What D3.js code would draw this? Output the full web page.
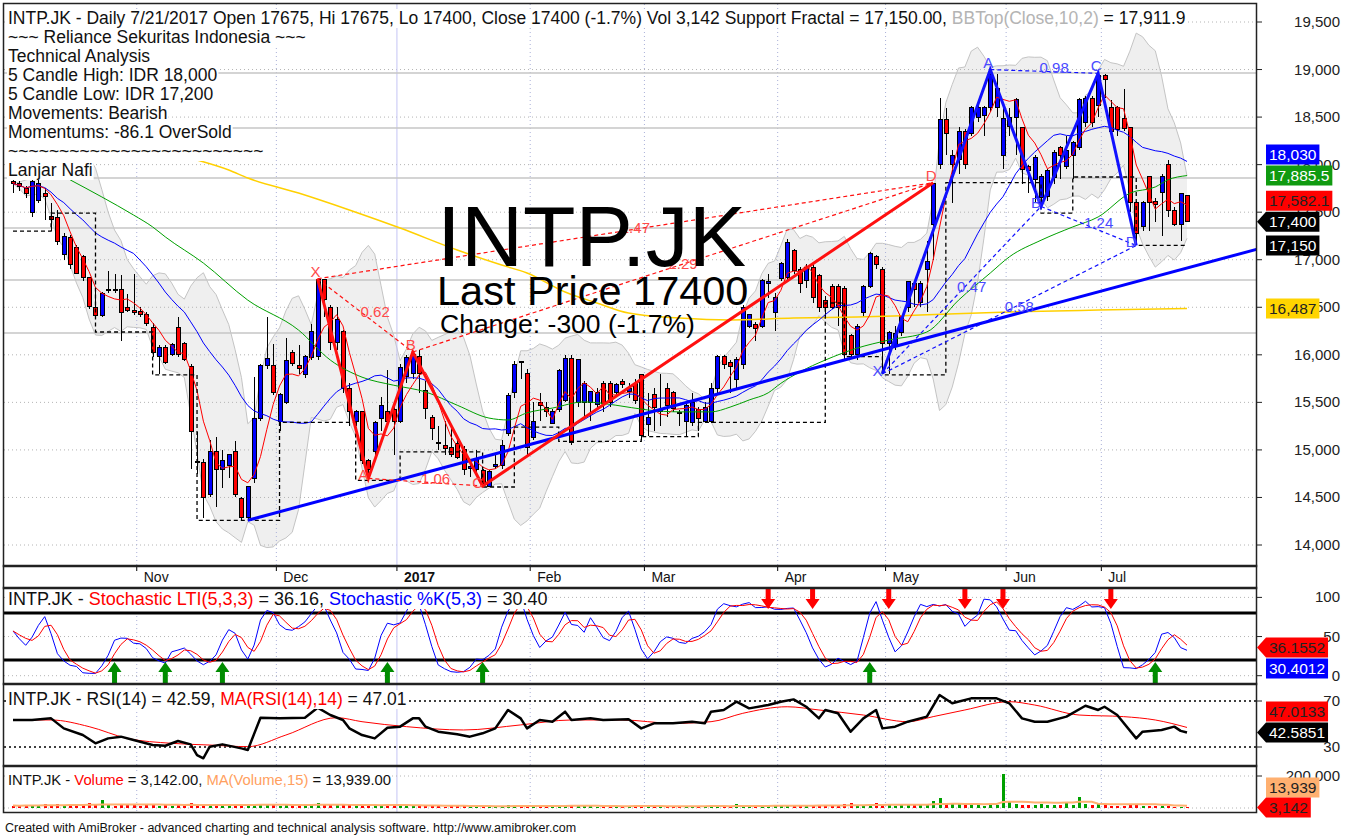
<!DOCTYPE html>
<html>
<head>
<meta charset="utf-8">
<script src="https://cdn.jsdelivr.net/npm/d3@7"></script>
<style>
  body { margin: 0; background: #fff; }
  svg { display: block; font-family: Arial, "Liberation Sans", sans-serif; }
  text { white-space: pre; }
</style>
</head>
<body>
<div id="wrapper"></div>
<script>
// ---- data ----
const monthNames = ["Nov", "Dec", "2017", "Feb", "Mar", "Apr", "May", "Jun", "Jul"]
const monthStarts = [20, 42, 61, 82, 100, 121, 138, 157, 172]

const opens = [
  17825, 17800, 17750, 17500, 17620, 17700, 17450, 17440, 17050, 17230, 17130, 17030, 16810, 16500, 16410, 16680, 16690, 16690, 16500, 16470,
  16460, 16420, 16290, 15980, 16080, 16000, 16290, 16120, 15880, 14880, 14870, 14530, 14980, 14790, 14840, 14980, 14490, 14290, 14700, 15330, 15890, 15890,
  15300, 15500, 16020, 15890, 15790, 15970, 15980, 16790, 16500, 16130, 16240, 15650, 15300, 15400, 14890, 14980, 15330, 15400, 15420,
  15300, 15770, 15800, 15980, 15620, 15340, 15080, 15050, 15030, 15070, 15000, 14800, 14790, 14780, 14610, 14830, 14840, 15170, 15600, 15930, 15800,
  15130, 15500, 15450, 15280, 15420, 15520, 15960, 15500, 15500, 15500, 15480, 15700, 15700, 15600, 15720, 15610, 15700, 15790,
  15270, 15580, 15400, 15650, 15600, 15390, 15300, 15290, 15430, 15300, 15300, 15650, 15980, 15920, 15740, 15900, 16300, 16320, 16300, 16750, 16450,
  16800, 16810, 17100, 16900, 16780, 16920, 16830, 16570, 16720, 16720, 16700, 16200, 16000, 16450, 16720, 17030, 16900,
  16120, 16100, 16230, 16500, 16750, 16550, 16900, 17370, 18000, 18470, 18000, 18050, 18350, 18330, 18500, 18520, 18600, 18600, 18100,
  18400, 18500, 18390, 17980, 17840, 17650, 17660, 17860, 18180, 17980, 18100, 18180, 18440, 18700, 18620,
  18940, 18600, 18600, 18480, 18390, 17600, 17350, 17870, 17610, 17710, 18000, 17520, 17370, 17675
]
const highs = [
  17875, 17825, 17775, 17850, 17850, 17750, 17600, 17520, 17280, 17260, 17160, 17050, 16820, 16700, 16660, 16880, 16850, 16840, 16640, 16850,
  16500, 16450, 16330, 16100, 16100, 16120, 16400, 16130, 15900, 15190, 14900, 15100, 15140, 15000, 14960, 15090, 14500, 14620, 15770, 15900, 16400, 16110,
  15600, 16180, 16050, 16100, 16000, 16320, 16800, 16800, 16520, 16500, 16260, 15700, 15420, 15410, 14900, 15300, 15560, 15840, 15500,
  15900, 16000, 16030, 16050, 15720, 15370, 15250, 15300, 15250, 15100, 15040, 14900, 15000, 14800, 14790, 14950, 15100, 15600, 15930, 15940, 15850,
  15500, 15600, 15500, 15430, 15850, 16000, 16000, 15960, 15720, 15620, 15650, 15720, 15720, 15700, 15750, 15700, 15750, 15800,
  15600, 15650, 15800, 15700, 15620, 15420, 15500, 15600, 15450, 15500, 15700, 16000, 16000, 15950, 15980, 16520, 16430, 16350, 16800, 16850, 16650,
  16980, 17220, 17110, 16920, 16950, 16950, 16850, 16620, 16750, 16750, 16720, 16220, 16320, 16730, 17080, 17050, 16920,
  16250, 16300, 16420, 16780, 16770, 16780, 17200, 17810, 18700, 18600, 18150, 18400, 18380, 18620, 18620, 18620, 19000, 18950, 18600,
  18600, 18700, 18400, 18000, 18100, 17900, 17950, 18150, 18200, 18300, 18250, 18700, 18720, 18720, 18950,
  18950, 18680, 18620, 18800, 18400, 17620, 17620, 17880, 17650, 17900, 18050, 17550, 17700, 17675
]
const lows = [
  17700, 17725, 17650, 17450, 17600, 17420, 17300, 17150, 17000, 16900, 16850, 16780, 16480, 16400, 16400, 16650, 16650, 16150, 16450, 16420,
  16400, 16300, 15980, 15800, 15900, 15990, 15980, 15930, 14800, 14750, 14280, 14500, 14400, 14600, 14700, 14500, 14260, 14250, 14650, 15300, 15850, 15580,
  15200, 15480, 15880, 15800, 15760, 15950, 15950, 16400, 16050, 16050, 15600, 15250, 15250, 14850, 14700, 14950, 15200, 15250, 14950,
  15280, 15700, 15750, 15600, 15320, 15100, 15000, 14950, 14930, 14900, 14740, 14720, 14750, 14620, 14640, 14800, 14800, 15150, 15550, 15750, 14950,
  15100, 15300, 15350, 15270, 15400, 15500, 15050, 15450, 15350, 15300, 15420, 15400, 15450, 15570, 15650, 15550, 15480, 15100,
  15150, 15200, 15250, 15350, 15400, 15250, 15150, 15250, 15200, 15280, 15280, 15600, 15850, 15600, 15650, 15850, 16280, 16150, 16280, 16600, 16250,
  16780, 16780, 16850, 16650, 16700, 16550, 16450, 16400, 16480, 16300, 15950, 15980, 15950, 16400, 16700, 16900, 15800,
  15800, 16050, 16200, 16450, 16500, 16500, 16450, 17000, 17950, 18100, 17600, 17900, 17950, 18300, 18450, 18300, 18550, 18500, 17950,
  18300, 18100, 17800, 17700, 17600, 17560, 17620, 17800, 17850, 17950, 17850, 18150, 18400, 18400, 18500,
  18700, 18300, 18300, 18350, 17500, 17150, 17300, 17300, 17400, 17250, 17450, 17350, 17200, 17400
]
const closes = [
  17800, 17765, 17700, 17825, 17800, 17660, 17425, 17190, 17240, 16950, 16860, 16810, 16510, 16410, 16650, 16690, 16680, 16450, 16470, 16440,
  16420, 16330, 16020, 16080, 15920, 16110, 16000, 15950, 15190, 14870, 14500, 14980, 14790, 14890, 14950, 14530, 14290, 14610, 15330, 15890, 15960, 15600,
  15580, 15940, 15910, 15860, 15980, 16240, 16790, 16580, 16130, 16370, 15650, 15400, 15400, 14890, 14790, 15290, 15470, 15300, 15300,
  15870, 15970, 16000, 15800, 15440, 15230, 15070, 15020, 14950, 14920, 14790, 14830, 14910, 14650, 14770, 14850, 15050, 15570, 15900, 15920, 15030,
  15300, 15470, 15400, 15400, 15840, 15960, 15080, 15950, 15700, 15610, 15600, 15490, 15500, 15690, 15690, 15650, 15520, 15150,
  15340, 15450, 15420, 15470, 15440, 15380, 15470, 15500, 15330, 15450, 15650, 15980, 15900, 15880, 15950, 16500, 16420, 16280, 16780, 16770, 16600,
  16960, 17180, 16890, 16750, 16920, 16600, 16500, 16500, 16500, 16500, 16000, 16000, 16300, 16720, 17070, 16950, 16120,
  16230, 16220, 16400, 16770, 16690, 16750, 16980, 17800, 18470, 18330, 18100, 18350, 18000, 18600, 18600, 18600, 18950, 18800, 18480,
  18500, 18680, 17950, 17940, 18070, 17880, 17940, 18130, 18100, 18150, 18230, 18680, 18700, 18440, 18940,
  18900, 18350, 18370, 18380, 17600, 17280, 17600, 17600, 17580, 17880, 17520, 17370, 17700, 17400
]
const volumes = [
  15000, 12000, 18000, 20000, 14000, 22000, 16000, 25000, 18000, 20000, 24000, 22000, 30000, 18000, 48000, 20000, 15000, 22000, 16000, 18000,
  14000, 16000, 20000, 15000, 18000, 14000, 16000, 17000, 30000, 22000, 26000, 20000, 18000, 14000, 15000, 20000, 16000, 18000, 26000, 28000, 22000, 18000,
  15000, 22000, 14000, 12000, 16000, 20000, 32000, 18000, 20000, 16000, 22000, 18000, 12000, 20000, 16000, 14000, 18000, 16000, 14000,
  20000, 16000, 12000, 14000, 12000, 10000, 12000, 9000, 10000, 11000, 12000, 10000, 9000, 12000, 10000, 12000, 14000, 16000, 18000, 12000, 20000,
  12000, 10000, 9000, 10000, 14000, 16000, 20000, 14000, 12000, 10000, 9000, 11000, 10000, 9000, 8000, 12000, 16000, 12000,
  12000, 10000, 11000, 10000, 9000, 11000, 12000, 10000, 11000, 14000, 18000, 12000, 10000, 12000, 22000, 12000, 10000, 18000, 14000, 12000, 14000,
  16000, 20000, 14000, 12000, 14000, 16000, 18000, 14000, 20000, 14000, 22000, 30000, 18000, 20000, 26000, 30000, 16000,
  28000, 14000, 16000, 22000, 18000, 16000, 24000, 45000, 60000, 30000, 22000, 25000, 20000, 18000, 16000, 14000, 28000, 20000, 210000,
  35000, 28000, 20000, 18000, 16000, 22000, 20000, 18000, 16000, 40000, 20000, 70000, 25000, 18000, 30000,
  16000, 14000, 12000, 12000, 22000, 24000, 14000, 12000, 12000, 10000, 11000, 8000, 9000, 3142
]

// long averages: [bar, value]
const greenLine = [[9, 17840], [14, 17660], [19, 17470], [22, 17345], [24, 17240], [30, 16965], [37, 16575], [45, 16260], [50, 15945], [55, 15765], [60, 15680], [65, 15610], [70, 15470], [75, 15335], [78, 15315], [81, 15390], [85, 15440], [90, 15505], [95, 15470], [100, 15420], [105, 15400], [110, 15400], [113, 15450], [116, 15525], [119, 15600], [121, 15700], [124, 15820], [128, 15945], [133, 16070], [138, 16155], [144, 16240], [149, 16575], [154, 16860], [157, 17030], [162, 17205], [167, 17345], [171, 17450], [176, 17700], [180, 17765], [182, 17840], [185, 17885]]
const yellowLine = [[29, 18048], [34, 17943], [37, 17859], [45, 17701], [53, 17523], [61, 17333], [70, 17102], [77, 16944], [81, 16860], [87, 16660], [92, 16545], [97, 16439], [105, 16387], [113, 16366], [123, 16387], [133, 16397], [143, 16418], [157, 16450], [171, 16471], [185, 16487]]

// RSI(14) and its 14-bar average: [bar, value]
const rsiLine = [[0, 53.5], [3, 53.5], [6, 54.9], [8, 46.2], [11, 40.4], [13, 33.2], [15, 37.5], [17, 39], [19, 36.1], [22, 31.7], [24, 31.1], [26, 35.2], [28, 32.3], [29, 23], [30, 20.2], [31, 30.3], [33, 32.3], [36, 28.8], [37, 27.4], [39, 55.5], [42, 54.9], [46, 55.5], [48, 64.2], [50, 57.8], [52, 53.5], [53, 46.2], [55, 40.4], [57, 37.5], [59, 46.8], [61, 47.7], [63, 54.9], [64, 54.9], [65, 47.7], [67, 43.3], [70, 41], [72, 39], [74, 41.9], [76, 46.2], [78, 62.2], [80, 54.9], [81, 46.2], [83, 53.5], [85, 52], [87, 60.7], [88, 53.5], [91, 54.9], [93, 53.5], [97, 54.1], [99, 46.2], [101, 50.6], [104, 50.6], [107, 52], [109, 50.6], [110, 60.7], [112, 62.2], [114, 69.4], [116, 63.6], [119, 66.5], [121, 69.4], [123, 71.4], [125, 65], [127, 54.9], [128, 62.2], [130, 59.3], [132, 43.3], [134, 54.9], [136, 62.2], [137, 46.2], [139, 47.7], [141, 52], [144, 56.4], [146, 75.2], [148, 68], [151, 72.3], [155, 72.3], [157, 68], [159, 54.9], [161, 52], [163, 52], [166, 56.4], [169, 65.9], [171, 62.2], [172, 65], [174, 57.8], [177, 37.5], [178, 43.3], [181, 44.8], [183, 47.7], [184, 44], [185, 42.6]]
const rsiMaLine = [[0, 53.5], [6, 53.5], [12, 47.7], [18, 37.5], [25, 33.2], [31, 31.7], [37, 30.3], [43, 40.4], [51, 55.5], [55, 52], [62, 47.7], [71, 44.8], [80, 49.2], [88, 53.5], [96, 53.5], [104, 50.6], [110, 52], [115, 59.3], [122, 65], [127, 62.2], [134, 57.8], [141, 52], [145, 56.4], [150, 62.2], [157, 69.4], [161, 66.5], [168, 57.8], [175, 56.4], [180, 53.5], [185, 47]]

// fractal support / resistance steps: [bar, level]
const fractalSteps = [[0, 17300], [6, 17490], [13, 16240], [22, 15790], [29, 14260], [42, 15290], [54, 14680], [61, 14980], [74, 14610], [79, 15240], [86, 15090], [99, 15140], [108, 15290], [128, 16545], [131, 15980], [137, 15790], [147, 17810], [162, 17490], [167, 17870], [177, 17150], [185, 17150]]
const srLevels = [18963, 18385, 17859, 17333, 16787, 16229]
const trendLine = [[37, 14260], [196, 17110]]

const redPattern = { X: [48, 16800], A: [56, 14700], B: [63, 16030], C: [74, 14620], D: [145, 17810] }
const redRatios = { XB: "0.62", AC: "1.06", BD: "2.29", XD: "1.47" }
const bluePattern = { X: [137, 15800], A: [154, 19000], B: [162, 17560], C: [171, 18960], D: [177, 17150] }
const blueRatios = { XB: "0.47", AC: "0.98", BD: "1.24", XD: "0.58" }

const buySignals = [16, 24, 33, 59, 74, 135, 180]
const sellSignals = [119, 126, 138, 150, 156, 173]

const priceTicks = [14000, 14500, 15000, 15500, 16000, 16500, 17000, 17500, 18000, 18500, 19000, 19500]
const stochTicks = [0, 50, 100]
const rsiTicks = [30, 70]
const volTicks = [200000]

const infoLines = [
  "~~~ Reliance Sekuritas Indonesia ~~~",
  "Technical Analysis",
  "5 Candle High: IDR 18,000",
  "5 Candle Low: IDR 17,200",
  "Movements: Bearish",
  "Momentums: -86.1 OverSold",
  "~~~~~~~~~~~~~~~~~~~~~~~~~",
  "Lanjar Nafi",
]

const priceLabels = [
  { text: "18,030", value: 18030, bg: "#0000ff", fg: "#fff" },
  { text: "17,885.5", value: 17885.5, bg: "#109a10", fg: "#fff" },
  { text: "17,582.1", value: 17582.1, bg: "#ff0000", fg: "#222" },
  { text: "17,400", value: 17400, bg: "#000", fg: "#fff", pointer: true },
  { text: "17,150", value: 17150, bg: "#000", fg: "#fff" },
  { text: "16,487", value: 16487, bg: "#ffd400", fg: "#222" },
]
const stochLabels = [
  { text: "36.1552", value: 36.1552, bg: "#ff0000", fg: "#222", pointer: true },
  { text: "30.4012", value: 30.4012, bg: "#0000ff", fg: "#fff" },
]
const rsiLabels = [
  { text: "47.0133", value: 47.0133, bg: "#ff0000", fg: "#222" },
  { text: "42.5851", value: 42.5851, bg: "#000", fg: "#fff", pointer: true },
]
const volLabels = [
  { text: "13,939", value: 13939, bg: "#ffb070", fg: "#222" },
  { text: "3,142", value: 3142, bg: "#ff0000", fg: "#222", pointer: true },
]

const drawChart = () => {
  const width = 1355, height = 835
  const left = 4, right = 1256
  const panes = {
    price: { top: 4, bottom: 566 },
    strip: { top: 566, bottom: 588 },
    stoch: { top: 588, bottom: 684 },
    rsi: { top: 684, bottom: 766 },
    vol: { top: 766, bottom: 812 },
  }

  const svg = d3.select("#wrapper").append("svg").attr("width", width).attr("height", height)
  svg.append("rect").attr("width", width).attr("height", height).attr("fill", "#fff")
  const defs = svg.append("defs")

  const paneGroup = (name) => {
    const p = panes[name]
    defs.append("clipPath").attr("id", `clip-${name}`)
      .append("rect").attr("x", left).attr("y", p.top).attr("width", right - left).attr("height", p.bottom - p.top)
    return svg.append("g").attr("clip-path", `url(#clip-${name})`)
  }

  // scales
  const x = d3.scaleLinear().domain([0, closes.length - 1]).range([13, 1187])
  const yP = d3.scaleLinear().domain([14000, 19500]).range([545, 22])
  const yS = d3.scaleLinear().domain([0, 100]).range([675.7, 597.4])
  const yR = d3.scaleLinear().domain([30, 70]).range([747, 701])
  const yV = d3.scaleLinear().domain([0, 200000]).range([808, 776])

  // indicators built from the bars
  const ma = (arr, n) => arr.map((_, i) => d3.mean(arr.slice(Math.max(0, i - n + 1), i + 1)))
  const ma5 = ma(closes, 5)
  const ma20 = ma(closes, 20)
  const bbMid = ma(closes, 10)
  const bbDev = closes.map((_, i) => {
    const w = closes.slice(Math.max(0, i - 9), i + 1)
    const m = d3.mean(w)
    return Math.sqrt(d3.mean(w, (v) => (v - m) ** 2))
  })
  const bbTop = bbMid.map((m, i) => m + 2 * bbDev[i])
  const bbBot = bbMid.map((m, i) => m - 2 * bbDev[i])

  const rawK = closes.map((c, i) => {
    const hh = d3.max(highs.slice(Math.max(0, i - 4), i + 1))
    const ll = d3.min(lows.slice(Math.max(0, i - 4), i + 1))
    return hh === ll ? 50 : ((c - ll) / (hh - ll)) * 100
  })
  const stochK = ma(rawK, 3)
  const stochD = ma(stochK, 3)
  const volMa = ma(volumes, 15)

  const idx = d3.range(closes.length)
  const sepX = monthStarts.map((s) => x(s - 0.5))

  // ---------- shared helpers ----------
  const vGrid = (g, p) => {
    monthStarts.forEach((s, k) => {
      const year = monthNames[k] === "2017"
      g.append("line").attr("x1", sepX[k]).attr("x2", sepX[k]).attr("y1", p.top).attr("y2", p.bottom)
        .attr("stroke", year ? "#c4c4f4" : "#aab0d8")
        .attr("stroke-dasharray", year ? null : "1,3")
    })
  }
  const hGrid = (g, scale, ticks, color, dash, w) => {
    g.selectAll(null).data(ticks).join("line")
      .attr("x1", left).attr("x2", right)
      .attr("y1", (d) => scale(d)).attr("y2", (d) => scale(d))
      .attr("stroke", color).attr("stroke-dasharray", dash).attr("stroke-width", w || 1)
  }
  const textWithBg = (g, tx, ty, parts, size) => {
    const t = g.append("text").attr("x", tx).attr("y", ty).style("font-size", size + "px")
    parts.forEach(([s, c]) => t.append("tspan").attr("fill", c).text(s))
    const b = t.node().getBBox()
    g.insert("rect", () => t.node()).attr("x", b.x - 1).attr("y", b.y + 1).attr("width", b.width + 2).attr("height", b.height - 1).attr("fill", "#fff")
    return t
  }
  const lineIdx = (arr, scale) => d3.line().defined((i) => arr[i] != null).x((i) => x(i)).y((i) => scale(arr[i]))
  const linePts = (scale, curve) => d3.line().x((d) => x(d[0])).y((d) => scale(d[1])).curve(curve || d3.curveLinear)

  // ---------- price pane ----------
  const pP = panes.price
  const gP = paneGroup("price")

  const area = d3.area().x((i) => x(i)).y0((i) => yP(bbBot[i])).y1((i) => yP(bbTop[i]))
  gP.append("path").attr("d", area(idx)).attr("fill", "#efefef")
  gP.append("path").attr("d", lineIdx(bbTop, yP)(idx)).attr("fill", "none").attr("stroke", "#c4c4c4")
  gP.append("path").attr("d", lineIdx(bbBot, yP)(idx)).attr("fill", "none").attr("stroke", "#c4c4c4")

  hGrid(gP, yP, priceTicks, "#b4b4b4", "1,3")
  vGrid(gP, pP)
  hGrid(gP, yP, srLevels, "#c6c6c6", null, 1.5)

  // candles
  const bars = idx.map((i) => ({ i, o: opens[i], h: highs[i], l: lows[i], c: closes[i] }))
  const gC = gP.append("g").attr("shape-rendering", "crispEdges")
  gC.selectAll("line").data(bars).join("line")
    .attr("x1", (d) => Math.round(x(d.i)) + 0.5).attr("x2", (d) => Math.round(x(d.i)) + 0.5)
    .attr("y1", (d) => yP(d.h)).attr("y2", (d) => yP(d.l)).attr("stroke", "#000")
  gC.selectAll("rect").data(bars).join("rect")
    .attr("x", (d) => Math.round(x(d.i)) - 1.5).attr("width", 4)
    .attr("y", (d) => yP(Math.max(d.o, d.c)))
    .attr("height", (d) => Math.max(1, Math.abs(yP(d.o) - yP(d.c))))
    .attr("fill", (d) => (d.c >= d.o ? "#0000ff" : "#ff0000"))
    .attr("stroke", "#000")

  // moving averages
  gP.append("path").attr("d", linePts(yP, d3.curveMonotoneX)(yellowLine)).attr("fill", "none").attr("stroke", "#ffd000").attr("stroke-width", 1.5)
  gP.append("path").attr("d", linePts(yP, d3.curveMonotoneX)(greenLine)).attr("fill", "none").attr("stroke", "#00a000")
  gP.append("path").attr("d", lineIdx(ma20, yP)(idx)).attr("fill", "none").attr("stroke", "#0000ff")
  gP.append("path").attr("d", lineIdx(ma5, yP)(idx)).attr("fill", "none").attr("stroke", "#ff0000")

  // fractal steps
  gP.append("path").attr("d", linePts(yP, d3.curveStepAfter)(fractalSteps))
    .attr("fill", "none").attr("stroke", "#000").attr("stroke-width", 1.3).attr("stroke-dasharray", "4,3")

  // trend line
  gP.append("path").attr("d", linePts(yP)(trendLine)).attr("fill", "none").attr("stroke", "#0000ff").attr("stroke-width", 3)

  // harmonic patterns
  const drawPattern = (pts, ratios, color, textColor) => {
    const g = gP.append("g")
    const P = (k) => [x(pts[k][0]), yP(pts[k][1])]
    ;[["X", "B"], ["A", "C"], ["B", "D"], ["X", "D"]].forEach(([a, b]) => {
      const [x1, y1] = P(a), [x2, y2] = P(b)
      g.append("line").attr("x1", x1).attr("y1", y1).attr("x2", x2).attr("y2", y2)
        .attr("stroke", color).attr("stroke-width", 1.2).attr("stroke-dasharray", "4,3")
      g.append("text").attr("x", (x1 + x2) / 2 + 10).attr("y", (y1 + y2) / 2 + 2)
        .attr("text-anchor", "middle").attr("fill", textColor).style("font-size", "15px").text(ratios[a + b])
    })
    const order = ["X", "A", "B", "C", "D"]
    g.append("path").attr("d", d3.line()(order.map(P))).attr("fill", "none").attr("stroke", color).attr("stroke-width", 3)
    order.forEach((k, j) => {
      const other = pts[order[j === 0 ? 1 : j - 1]][1]
      const peak = pts[k][1] > other
      const [px, py] = P(k)
      g.append("text").attr("x", peak ? px - 2 : px - 5).attr("y", peak ? py - 2 : py + 2)
        .attr("text-anchor", "middle").attr("fill", textColor).style("font-size", "15px").text(k)
    })
  }
  drawPattern(redPattern, redRatios, "#ff1010", "#ff4a4a")
  drawPattern(bluePattern, blueRatios, "#1010ff", "#4a4aff")

  // big caption
  gP.append("text").attr("x", 437).attr("y", 266).style("font-size", "86px").attr("fill", "#000").text("INTP.JK")
  gP.append("text").attr("x", 437).attr("y", 305).style("font-size", "41.5px").attr("fill", "#000").text("Last Price 17400")
  gP.append("text").attr("x", 440).attr("y", 333).style("font-size", "26.5px").attr("fill", "#000").text("Change: -300 (-1.7%)")

  // title + info block
  textWithBg(gP, 8, 24, [
    ["INTP.JK - Daily 7/21/2017 Open 17675, Hi 17675, Lo 17400, Close 17400 (-1.7%) Vol 3,142 Support Fractal = 17,150.00, ", "#111"],
    ["BBTop(Close,10,2)", "#b4b4b4"], [" = 17,911.9", "#111"],
  ], 17.5)
  infoLines.forEach((s, k) => textWithBg(gP, 8, 43 + k * 19, [[s, "#111"]], 17.5))

  // month strip
  const gStrip = svg.append("g")
  monthStarts.forEach((s, k) => {
    gStrip.append("line").attr("x1", sepX[k]).attr("x2", sepX[k]).attr("y1", panes.strip.top).attr("y2", panes.strip.top + 5).attr("stroke", "#000")
    gStrip.append("text").attr("x", sepX[k] + 7).attr("y", 582).style("font-size", "14px")
      .style("font-weight", monthNames[k] === "2017" ? "bold" : null).attr("fill", "#111").text(monthNames[k])
  })

  // ---------- stochastic pane ----------
  const pS = panes.stoch
  const gS = paneGroup("stoch")
  hGrid(gS, yS, stochTicks, "#b4b4b4", "1,3")
  vGrid(gS, pS)
  hGrid(gS, yS, [20, 80], "#000", null, 3)
  gS.append("path").attr("d", lineIdx(stochK, yS)(idx)).attr("fill", "none").attr("stroke", "#0000ff")
  gS.append("path").attr("d", lineIdx(stochD, yS)(idx)).attr("fill", "none").attr("stroke", "#ff0000")
  const upArrow = (cx, ty) => `M${cx},${ty}L${cx + 7},${ty + 10}L${cx + 2.5},${ty + 10}L${cx + 2.5},${ty + 26}L${cx - 2.5},${ty + 26}L${cx - 2.5},${ty + 10}L${cx - 7},${ty + 10}Z`
  const downArrow = (cx, ty) => `M${cx},${ty}L${cx + 7},${ty - 10}L${cx + 2.5},${ty - 10}L${cx + 2.5},${ty - 26}L${cx - 2.5},${ty - 26}L${cx - 2.5},${ty - 10}L${cx - 7},${ty - 10}Z`
  gS.selectAll(".buy").data(buySignals).join("path").attr("d", (i) => upArrow(x(i), yS(20) + 2)).attr("fill", "#008c00")
  gS.selectAll(".sell").data(sellSignals).join("path").attr("d", (i) => downArrow(x(i), yS(80) - 4)).attr("fill", "#ff0000")
  textWithBg(gS, 8, 605, [["INTP.JK - ", "#111"], ["Stochastic LTI(5,3,3)", "#ff0000"], [" = 36.16, ", "#111"], ["Stochastic %K(5,3)", "#0000ff"], [" = 30.40", "#111"]], 18)

  // ---------- RSI pane ----------
  const pR = panes.rsi
  const gR = paneGroup("rsi")
  vGrid(gR, pR)
  hGrid(gR, yR, rsiTicks, "#000", "2,3", 1.5)
  gR.append("path").attr("d", linePts(yR, d3.curveMonotoneX)(rsiMaLine)).attr("fill", "none").attr("stroke", "#ff0000")
  gR.append("path").attr("d", linePts(yR)(rsiLine)).attr("fill", "none").attr("stroke", "#000").attr("stroke-width", 2.5).attr("stroke-linejoin", "round")
  textWithBg(gR, 8, 705, [["INTP.JK - RSI(14) = 42.59, ", "#111"], ["MA(RSI(14),14)", "#ff0000"], [" = 47.01", "#111"]], 17.5)

  // ---------- volume pane ----------
  const pV = panes.vol
  const gV = paneGroup("vol")
  vGrid(gV, pV)
  hGrid(gV, yV, [0, 200000], "#b4b4b4", "1,3")
  gV.append("g").attr("shape-rendering", "crispEdges").selectAll("rect").data(idx).join("rect")
    .attr("x", (i) => Math.round(x(i)) - 1).attr("width", 2.5)
    .attr("y", (i) => yV(volumes[i])).attr("height", (i) => yV(0) - yV(volumes[i]))
    .attr("fill", (i) => (closes[i] >= opens[i] ? "#00a000" : "#ff0000"))
  gV.append("path").attr("d", lineIdx(volMa, yV)(idx)).attr("fill", "none").attr("stroke", "#ffb070").attr("stroke-width", 2)
  textWithBg(gV, 8, 785, [["INTP.JK - ", "#111"], ["Volume", "#ff0000"], [" = 3,142.00, ", "#111"], ["MA(Volume,15)", "#ffa060"], [" = 13,939.00", "#111"]], 14.8)

  // ---------- frames ----------
  Object.values(panes).forEach((p) => {
    svg.append("rect").attr("x", left - 0.5).attr("y", p.top - 0.5).attr("width", right - left + 1).attr("height", p.bottom - p.top + 1)
      .attr("fill", "none").attr("stroke", "#222").attr("stroke-width", 1.5)
  })

  // ---------- right axes ----------
  const axisTicks = (scale, ticks, fmt) => {
    const g = svg.append("g")
    ticks.forEach((t) => {
      g.append("line").attr("x1", right).attr("x2", right + 6).attr("y1", scale(t)).attr("y2", scale(t)).attr("stroke", "#222")
      g.append("text").attr("x", 1340).attr("y", scale(t) + 5).attr("text-anchor", "end").style("font-size", "15px").attr("fill", "#222").text(fmt(t))
    })
  }
  axisTicks(yP, priceTicks, d3.format(","))
  axisTicks(yS, stochTicks, d3.format("d"))
  axisTicks(yR, rsiTicks, d3.format("d"))
  axisTicks(yV, volTicks, d3.format(","))

  const valueLabels = (labels, scale, gap) => {
    labels.forEach((l) => (l.ly = scale(l.value)))
    const a = labels.findIndex((l) => l.pointer)
    for (let k = a - 1; k >= 0; k--) labels[k].ly = Math.min(labels[k].ly, labels[k + 1].ly - gap)
    for (let k = a + 1; k < labels.length; k++) labels[k].ly = Math.max(labels[k].ly, labels[k - 1].ly + gap)
    const g = svg.append("g")
    labels.forEach((l) => {
      const shape = g.append("path")
      const t = g.append("text").attr("x", 1269).attr("y", l.ly + 5.5).style("font-size", "15.5px").attr("fill", l.fg).text(l.text)
      const w = t.node().getComputedTextLength() + 6
      const x0 = 1266, top = l.ly - 10, bot = l.ly + 10
      shape.attr("fill", l.bg).attr("d", l.pointer
        ? `M${right + 1},${l.ly}L${x0},${top}H${x0 + w}V${bot}H${x0}Z`
        : `M${x0},${top}H${x0 + w}V${bot}H${x0}Z`)
    })
  }
  valueLabels(priceLabels, yP, 21)
  valueLabels(stochLabels, yS, 21)
  valueLabels(rsiLabels, yR, 21)
  valueLabels(volLabels, yV, 20)

  svg.append("text").attr("x", 5).attr("y", 832).style("font-size", "12.5px").attr("fill", "#111")
    .text("Created with AmiBroker - advanced charting and technical analysis software. http://www.amibroker.com")
}

drawChart()
</script>
</body>
</html>
